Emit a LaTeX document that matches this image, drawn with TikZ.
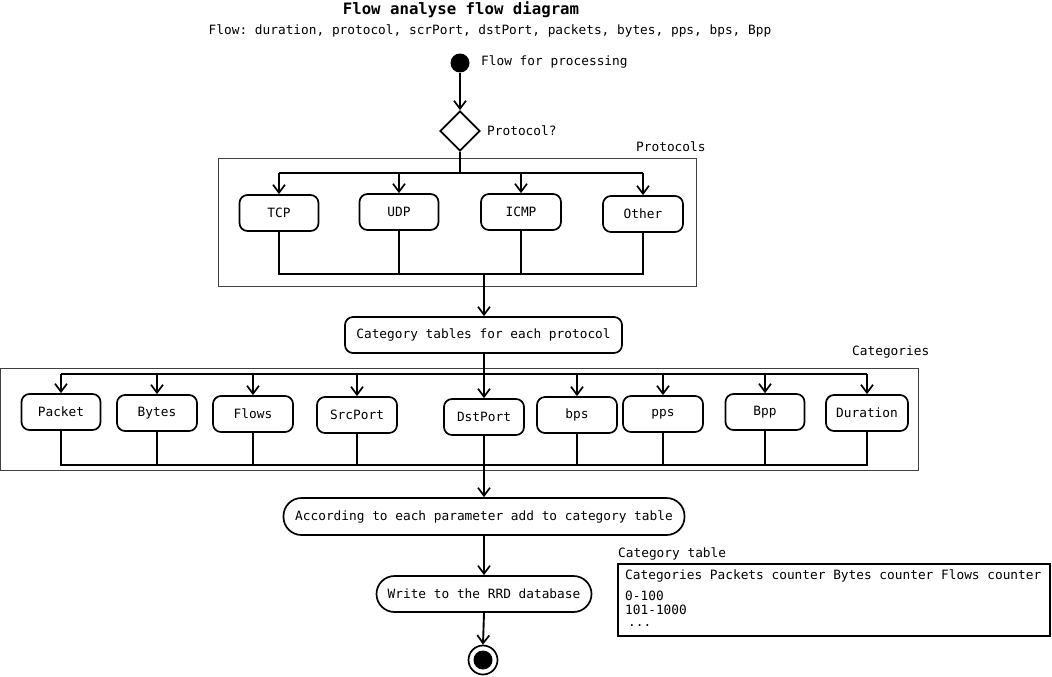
\documentclass[tikz,border=0pt]{standalone}
\usepackage{fontspec}
\setmainfont{DejaVu Sans Mono}
\usetikzlibrary{arrows.meta,shapes.geometric}
\frenchspacing
\tikzset{
  every node/.style={font=\fontsize{12.8}{15}\selectfont},
  ln/.style={line width=1.9pt},
  arr/.style={line width=1.9pt,-{Straight Barb[length=8pt,width=12pt,line width=1.7pt]}},
  tarr/.style={line width=2.6pt,-{Straight Barb[length=8pt,width=12pt,line width=1.7pt]}},
  act/.style={draw,line width=1.7pt,rounded corners=8pt,minimum height=36pt,inner sep=2pt},
  pill/.style={draw,line width=1.7pt,rounded corners=18pt,minimum height=37pt,inner sep=2pt},
  frame/.style={draw=black!75,line width=0.9pt},
  lbl/.style={inner sep=0pt,anchor=west},
}
\begin{document}
\begin{tikzpicture}[x=1pt,y=-1pt]
\useasboundingbox (0,0) rectangle (1052,677);
% titles
\node[inner sep=0pt,font=\fontsize{15.7}{18}\selectfont\bfseries] (title) at (461,10) {Flow analyse flow diagram};
\node[inner sep=0pt] (sub) at (490,31) {Flow: duration, protocol, scrPort, dstPort, packets, bytes, pps, bps, Bpp};
% start
\node[circle,fill=black,minimum size=19pt,inner sep=0pt] (start) at (460,63) {};
\node[lbl] (startl) at (481,62) {Flow for processing};
\node[diamond,draw,line width=1.7pt,minimum width=40pt,minimum height=40pt,inner sep=0pt] (dia) at (460,131) {};
\node[lbl] (dial) at (487,131) {Protocol?};
\draw[arr] (start) -- (dia.north);
% protocols frame
\node[frame,minimum width=478pt,minimum height=128pt,inner sep=0pt] (pframe) at (457,222) {};
\node[lbl] (pframel) at (636,147) {Protocols};
\node[act,minimum width=79pt] (tcp) at (279,213) {TCP};
\node[act,minimum width=79pt] (udp) at (399,212) {UDP};
\node[act,minimum width=80pt] (icmp) at (521,212) {ICMP};
\node[act,minimum width=80pt] (oth) at (643,214) {Other};
\coordinate (pb) at (460,173);
\coordinate (pj) at (484,274);
\draw[ln] (dia.south) -- (pb);
\draw[ln] (tcp.north |- pb) -- (oth.north |- pb);
\foreach \n in {tcp,udp,icmp,oth} \draw[arr] (\n.north |- pb) -- (\n.north);
\draw[ln] (tcp.south) |- (oth.south |- pj) -- (oth.south);
\draw[ln] (udp.south) -- (udp.south |- pj);
\draw[ln] (icmp.south) -- (icmp.south |- pj);
% category tables
\node[act,minimum width=277pt] (cat) at (483.5,335) {Category tables for each protocol};
\draw[tarr] (pj) -- (pj |- cat.north);
% categories frame
\node[frame,minimum width=918pt,minimum height=102pt,inner sep=0pt] (cframe) at (459,419) {};
\node[lbl] (cframel) at (852,352) {Categories};
\node[act,minimum width=79pt] (packet) at (61,412) {Packet};
\node[act,minimum width=80pt] (bytes) at (157,413) {Bytes};
\node[act,minimum width=80pt] (flows) at (253,414) {Flows};
\node[act,minimum width=80pt] (srcport) at (357,415) {SrcPort};
\node[act,minimum width=80pt] (dstport) at (484,417) {DstPort};
\node[act,minimum width=80pt] (bps) at (577,415) {bps};
\node[act,minimum width=80pt] (pps) at (663,414) {pps};
\node[act,minimum width=79pt] (bpp) at (765,412) {Bpp};
\node[act,minimum width=82pt] (dur) at (867,413) {Duration};
\coordinate (cb) at (484,374);
\coordinate (cj) at (484,465);
\draw[tarr,-] (cat.south -| cb) -- (cb);
\draw[ln] (packet.north |- cb) -- (dur.north |- cb);
\foreach \n in {packet,bytes,flows,srcport,dstport,bps,pps,bpp,dur} \draw[arr] (\n.north |- cb) -- (\n.north);
\draw[ln] (packet.south) |- (dur.south |- cj) -- (dur.south);
\foreach \n in {bytes,flows,srcport,dstport,bps,pps,bpp} \draw[ln] (\n.south) -- (\n.south |- cj);
% bottom
\node[pill,minimum width=401pt] (acc) at (484,516.5) {According to each parameter add to category table};
\draw[tarr] (cj) -- (cj |- acc.north);
\node[pill,minimum width=215pt,minimum height=36pt] (wr) at (484,594) {Write to the RRD database};
\draw[arr] (acc.south) -- (wr.north);
\node[circle,draw,line width=1.7pt,minimum size=29pt,inner sep=0pt] (end) at (483,660) {};
\node[circle,fill=black,minimum size=19pt,inner sep=0pt] (endin) at (483,660) {};
\draw[arr] (wr.south) -- (end.north);
% category table
\node[lbl] (ctl) at (618,554) {Category table};
\node[draw,line width=1.9pt,minimum width=432pt,minimum height=72pt,inner sep=0pt] (ct) at (834,600) {};
\node[lbl] (cth) at (625,576) {Categories Packets counter Bytes counter Flows counter};
\node[lbl] (ct1) at (625,596) {0-100};
\node[lbl] (ct2) at (625,610) {101-1000};
\node[lbl] (ct3) at (628,626) {...};
\end{tikzpicture}
\end{document}
